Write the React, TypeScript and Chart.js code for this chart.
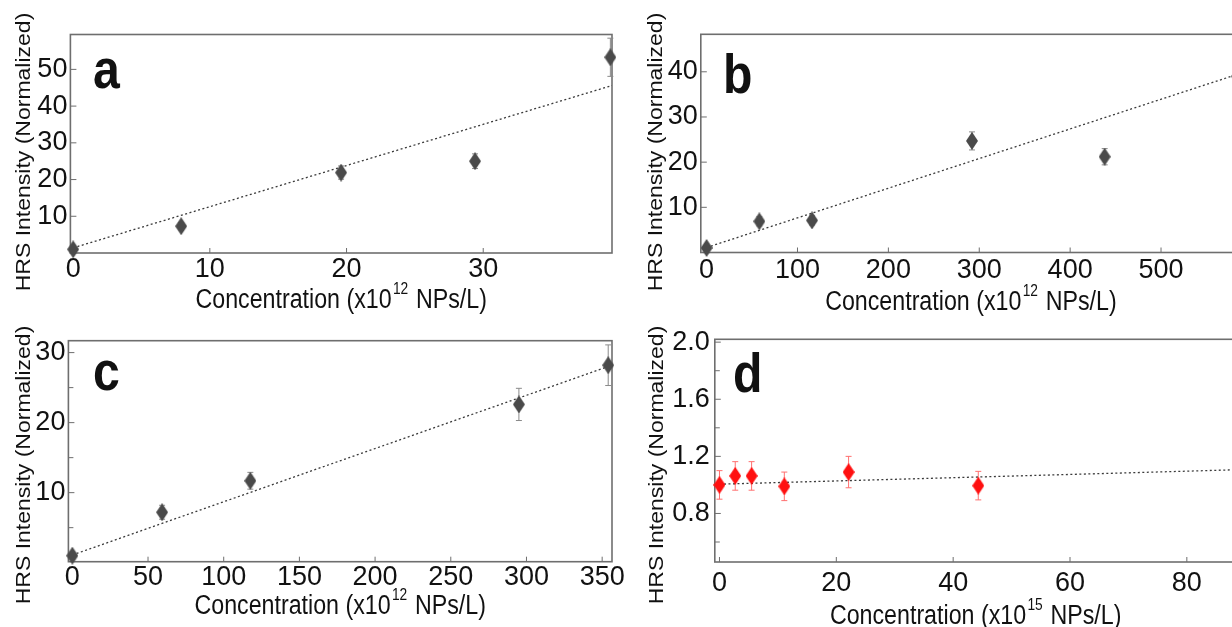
import React, { useEffect, useRef } from "react";
import { Chart, registerables } from "chart.js";

Chart.register(...registerables);

// ---------- data ----------
// panel a
const xA = [0, 7.9, 19.6, 29.4, 39.3];
const yA = [1.0, 7.3, 21.9, 25.0, 53.3];
const errA = [0.5, 1.0, 1.8, 2.0, 5.2];
const fitXA = [0, 39.42];
const fitYA = [1.4, 45.6];
const xTicksA = [0, 10, 20, 30];
const yTicksA = [10, 20, 30, 40, 50];

// panel b
const xB = [0, 58, 116, 292, 438, 584];
const yB = [1.0, 6.9, 7.1, 24.7, 21.2, 39.0];
const errB = [0.6, 1.0, 1.0, 2.0, 1.8, 3.5];
const fitXB = [0, 588];
const fitYB = [1.1, 39.7];
const xTicksB = [0, 100, 200, 300, 400, 500];
const yTicksB = [10, 20, 30, 40];

// panel c
const xC = [0, 59.3, 117.6, 295, 354];
const yC = [1.0, 7.2, 11.7, 22.6, 28.2];
const errC = [0.5, 1.0, 1.2, 2.3, 2.9];
const fitXC = [0, 356.5];
const fitYC = [1.1, 28.2];
const xTicksC = [0, 50, 100, 150, 200, 250, 300, 350];
const yTicksC = [10, 20, 30];
const yMinorC = [5, 15, 25];

// panel d
const xD = [0, 2.7, 5.5, 11.1, 22.1, 44.3];
const yD = [1.0, 1.063, 1.063, 0.99, 1.09, 0.995];
const errD = [0.1, 0.1, 0.1, 0.1, 0.11, 0.1];
const fitXD = [0, 88.5];
const fitYD = [1.005, 1.106];
const xTicksD = [0, 20, 40, 60, 80];
const yTicksD = [0.8, 1.2, 1.6, 2.0];
const yMinorD = [0.6, 1.0, 1.4, 1.8];

const Y_TITLE = "HRS Intensity (Normalized)";
const X_TITLE_PRE = "Concentration (x10";
const X_TITLE_POST = " NPs/L)";

// ---------- styling ----------
const FONT = "'Liberation Sans', Arial, sans-serif";
const NARROW = "'Liberation Sans Narrow', 'Liberation Sans', Arial, sans-serif";
const SX = 0.86;
const TEXT = "#111111";
const BOX = "#6e6e6e";

type Rect = { l: number; t: number; w: number; h: number };
type Plot = { l: number; t: number; r: number; b: number };
interface PanelCfg {
  letter: string;
  exp: string;
  xs: number[];
  ys: number[];
  errs: number[];
  fitX: number[];
  fitY: number[];
  xTicks: number[];
  yTicks: number[];
  yMinor: number[];
  xMin: number;
  xMax: number;
  yMin: number;
  yMax: number;
  decimals: number;
  pointColor: string;
  errColor: string;
  canvas: Rect;
  plot: Plot;
  yTitle: { x: number; y: number };
  xTitleY: number;
  letterPos: { x: number; y: number };
  xPad: number;
  yPad: number;
}

const panels: PanelCfg[] = [
  {
    letter: "a", exp: "12", xs: xA, ys: yA, errs: errA, fitX: fitXA, fitY: fitYA,
    xTicks: xTicksA, yTicks: yTicksA, yMinor: [],
    xMin: -0.2, xMax: 39.42, yMin: 0, yMax: 59.5, decimals: 0,
    pointColor: "#4a4a4a", errColor: "#8a8a8a",
    canvas: { l: 0, t: 0, w: 640, h: 318 },
    plot: { l: 70.4, t: 34.5, r: 612, b: 253 },
    yTitle: { x: 25, y: 152 }, xTitleY: 308, letterPos: { x: 93, y: 88 }, xPad: 0, yPad: 3,
  },
  {
    letter: "b", exp: "12", xs: xB, ys: yB, errs: errB, fitX: fitXB, fitY: fitYB,
    xTicks: xTicksB, yTicks: yTicksB, yMinor: [],
    xMin: -6.4, xMax: 588, yMin: 0, yMax: 48.3, decimals: 0,
    pointColor: "#4a4a4a", errColor: "#8a8a8a",
    canvas: { l: 630, t: 0, w: 640, h: 318 },
    plot: { l: 700.8, t: 34.3, r: 1241, b: 252.5 },
    yTitle: { x: 657, y: 152 }, xTitleY: 310, letterPos: { x: 723, y: 93 }, xPad: 2, yPad: 3,
  },
  {
    letter: "c", exp: "12", xs: xC, ys: yC, errs: errC, fitX: fitXC, fitY: fitYC,
    xTicks: xTicksC, yTicks: yTicksC, yMinor: yMinorC,
    xMin: -2.6, xMax: 356.5, yMin: 0.14, yMax: 31.7, decimals: 0,
    pointColor: "#4a4a4a", errColor: "#8a8a8a",
    canvas: { l: 0, t: 318, w: 640, h: 309 },
    plot: { l: 68.4, t: 340.7, r: 612, b: 561.7 },
    yTitle: { x: 25, y: 465 }, xTitleY: 614, letterPos: { x: 93, y: 390 }, xPad: 0, yPad: 3,
  },
  {
    letter: "d", exp: "15", xs: xD, ys: yD, errs: errD, fitX: fitXD, fitY: fitYD,
    xTicks: xTicksD, yTicks: yTicksD, yMinor: yMinorD,
    xMin: -0.8, xMax: 88.5, yMin: 0.46, yMax: 2.02, decimals: 1,
    pointColor: "#ff1010", errColor: "#ff7070",
    canvas: { l: 630, t: 318, w: 640, h: 309 },
    plot: { l: 714.8, t: 339.3, r: 1236.5, b: 562 },
    yTitle: { x: 658, y: 465 }, xTitleY: 624, letterPos: { x: 733, y: 392 }, xPad: 5, yPad: 5,
  },
];

function makeDiamond(fill: string, w: number, h: number): HTMLCanvasElement {
  const c = document.createElement("canvas");
  c.width = w;
  c.height = h;
  const g = c.getContext("2d")!;
  g.fillStyle = fill;
  g.beginPath();
  g.moveTo(w / 2, 0);
  g.lineTo(w, h / 2);
  g.lineTo(w / 2, h);
  g.lineTo(0, h / 2);
  g.closePath();
  g.fill();
  return c;
}

function makePlugin(p: PanelCfg) {
  const ox = p.canvas.l;
  const oy = p.canvas.t;
  return {
    id: "panelDeco" + p.letter,
    beforeDatasetsDraw(chart: any) {
      const { ctx, chartArea: a, scales } = chart;
      const x = scales.x;
      const y = scales.y;
      ctx.save();
      // box
      ctx.strokeStyle = BOX;
      ctx.lineWidth = 1.6;
      ctx.strokeRect(a.left, a.top, a.right - a.left, a.bottom - a.top);
      // inward ticks
      ctx.lineWidth = 1;
      ctx.beginPath();
      x.ticks.forEach((t: any) => {
        const px = x.getPixelForValue(t.value);
        ctx.moveTo(px, a.bottom);
        ctx.lineTo(px, a.bottom - 5);
      });
      y.ticks.forEach((t: any) => {
        const py = y.getPixelForValue(t.value);
        ctx.moveTo(a.left, py);
        ctx.lineTo(a.left + 6, py);
      });
      p.yMinor.forEach((v) => {
        const py = y.getPixelForValue(v);
        ctx.moveTo(a.left, py);
        ctx.lineTo(a.left + 5, py);
      });
      ctx.stroke();
      // error bars
      ctx.strokeStyle = p.errColor;
      ctx.lineWidth = 1;
      ctx.beginPath();
      p.xs.forEach((xv, i) => {
        const px = x.getPixelForValue(xv);
        const top = y.getPixelForValue(p.ys[i] + p.errs[i]);
        const bot = y.getPixelForValue(p.ys[i] - p.errs[i]);
        ctx.moveTo(px, top);
        ctx.lineTo(px, bot);
        ctx.moveTo(px - 3, top);
        ctx.lineTo(px + 3, top);
        ctx.moveTo(px - 3, bot);
        ctx.lineTo(px + 3, bot);
      });
      ctx.stroke();
      ctx.restore();
    },
    afterDraw(chart: any) {
      const { ctx, chartArea: a } = chart;
      ctx.save();
      ctx.fillStyle = TEXT;
      // panel letter
      ctx.save();
      ctx.translate(p.letterPos.x - ox, p.letterPos.y - oy);
      ctx.scale(SX, 1);
      ctx.font = `bold 56px ${FONT}`;
      ctx.textAlign = "left";
      ctx.textBaseline = "alphabetic";
      ctx.fillText(p.letter, 0, 0);
      ctx.restore();
      // y title
      ctx.save();
      ctx.translate(p.yTitle.x - ox, p.yTitle.y - oy);
      ctx.scale(SX, 1);
      ctx.rotate(-Math.PI / 2);
      ctx.font = `23px ${FONT}`;
      ctx.textAlign = "center";
      ctx.textBaseline = "middle";
      ctx.fillText(Y_TITLE, 0, 0);
      ctx.restore();
      // x title with superscript
      ctx.save();
      const mainFont = `27px ${FONT}`;
      const supFont = `16px ${FONT}`;
      ctx.font = mainFont;
      const w1 = ctx.measureText(X_TITLE_PRE).width;
      const w3 = ctx.measureText(X_TITLE_POST).width;
      ctx.font = supFont;
      const w2 = ctx.measureText(p.exp).width + 3;
      const total = (w1 + w2 + w3) * SX;
      const cx = (a.left + a.right) / 2;
      ctx.translate(cx - total / 2, p.xTitleY - oy);
      ctx.scale(SX, 1);
      ctx.textAlign = "left";
      ctx.textBaseline = "alphabetic";
      ctx.font = mainFont;
      ctx.fillText(X_TITLE_PRE, 0, 0);
      ctx.font = supFont;
      ctx.fillText(p.exp, w1 + 1.5, -14);
      ctx.font = mainFont;
      ctx.fillText(X_TITLE_POST, w1 + w2, 0);
      ctx.restore();
      ctx.restore();
    },
  };
}

function buildConfig(p: PanelCfg): any {
  const diamond = makeDiamond(p.pointColor, 12, 18);
  return {
    type: "scatter",
    data: {
      datasets: [
        {
          data: p.xs.map((x, i) => ({ x, y: p.ys[i] })),
          pointStyle: diamond,
          pointRadius: 8,
          showLine: false,
          clip: false,
        },
        {
          data: p.fitX.map((x, i) => ({ x, y: p.fitY[i] })),
          showLine: true,
          borderColor: "#3a3a3a",
          borderWidth: 1.3,
          borderDash: [2, 2.5],
          pointRadius: 0,
          fill: false,
        },
      ],
    },
    options: {
      responsive: false,
      animation: false,
      events: [],
      layout: {
        padding: {
          top: p.plot.t - p.canvas.t,
          right: p.canvas.l + p.canvas.w - p.plot.r,
          left: 0,
          bottom: 0,
        },
      },
      plugins: { legend: { display: false }, tooltip: { enabled: false }, title: { display: false } },
      scales: {
        x: {
          type: "linear",
          min: p.xMin,
          max: p.xMax,
          afterBuildTicks: (s: any) => {
            s.ticks = p.xTicks.map((v) => ({ value: v }));
          },
          afterFit: (s: any) => {
            s.height = p.canvas.t + p.canvas.h - p.plot.b;
          },
          grid: { display: false, drawTicks: false, tickLength: 0 },
          border: { display: false },
          ticks: {
            font: { family: NARROW, size: 27 },
            color: TEXT,
            padding: p.xPad,
            maxRotation: 0,
            autoSkip: false,
            callback: (v: any) => String(v),
          },
        },
        y: {
          type: "linear",
          min: p.yMin,
          max: p.yMax,
          afterBuildTicks: (s: any) => {
            s.ticks = p.yTicks.map((v) => ({ value: v }));
          },
          afterFit: (s: any) => {
            s.width = p.plot.l - p.canvas.l;
          },
          grid: { display: false, drawTicks: false, tickLength: 0 },
          border: { display: false },
          ticks: {
            font: { family: NARROW, size: 27 },
            color: TEXT,
            padding: p.yPad,
            autoSkip: false,
            callback: (v: any) => Number(v).toFixed(p.decimals),
          },
        },
      },
    },
    plugins: [makePlugin(p)],
  };
}

function PanelChart({ p }: { p: PanelCfg }) {
  const ref = useRef<HTMLCanvasElement>(null);
  useEffect(() => {
    if (!ref.current) return;
    const chart = new Chart(ref.current, buildConfig(p));
    return () => chart.destroy();
  }, [p]);
  return (
    <canvas
      ref={ref}
      width={p.canvas.w}
      height={p.canvas.h}
      style={{ position: "absolute", left: p.canvas.l, top: p.canvas.t, width: p.canvas.w, height: p.canvas.h }}
    />
  );
}

export default function App() {
  return (
    <div
      style={{
        position: "fixed",
        left: 0,
        top: 0,
        width: 1232,
        height: 627,
        overflow: "hidden",
        background: "#ffffff",
      }}
    >
      {panels.map((p) => (
        <PanelChart key={p.letter} p={p} />
      ))}
    </div>
  );
}
